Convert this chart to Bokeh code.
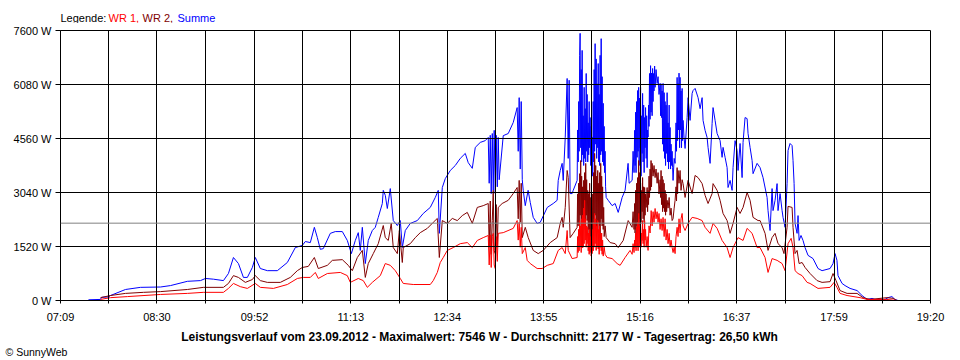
from bokeh.plotting import figure
from bokeh.layouts import column
from bokeh.models import Range1d, FixedTicker, Span, Label
from bokeh.embed import file_html
from bokeh.resources import INLINE

# ---------------- data (time in minutes since midnight, power in W) ----------------
X_TICK_LABELS = ["07:09", "08:30", "09:52", "11:13", "12:34", "13:55", "15:16", "16:37", "17:59", "19:20"]
Y_TICKS = [0, 1520, 3040, 4560, 6080, 7600]
DATE = "23.09.2012"
MAXIMUM = 7546
AVERAGE = 2177
YIELD_KWH = "26,50"

SUMME = [(452.5,20),(462.6,30),(463.5,90),(469.3,100),(471.0,140),(483.6,310),(496.2,370),(513.0,380),(521.4,420),(535.6,540),(546.6,560),(550.8,620),(557.5,600),(565.9,560),(570.1,760),(574.3,1210),(578.5,1040),(582.7,650),(586.0,650),(590.2,930),(592.7,1210),(596.9,900),(602.8,840),(611.2,840),(619.6,1070),(626.3,1490),(632.2,1550),(634.7,1660),(638.9,1630),(642.3,2060),(644.8,1770),(647.3,1440),(649.8,1460),(655.7,1890),(659.9,1940),(665.8,1940),(670.0,1690),(673.4,1320),(676.7,1690),(679.2,1910),(680.9,1410),(682.6,2060),(685.1,1040),(687.6,1690),(691.0,1970),(693.5,2060),(696.0,2340),(699.4,2730),(700.2,3100),(701.9,2960),(703.6,2590),(706.1,3150),(708.6,2250),(712.0,2110),(714.5,2250),(716.2,1490),(718.7,1970),(722.9,2170),(728.8,2250),(733.8,2450),(739.7,2620),(743.9,2900),(746.4,3100),(747.3,1890),(749.8,3180),(752.3,3430),(756.5,3660),(760.7,3800),(764.9,4000),(769.1,4140),(771.6,3880),(775.0,3720),(777.5,4310),(781.7,4450),(785.9,4500),(788.4,4590),(789.2,3300),(790.1,4650),(790.9,3010),(791.8,4700),(792.6,3100),(793.4,4790),(794.3,3010),(795.1,4650),(796.0,3200),(796.8,4590),(797.6,3400),(801.0,4640),(805.2,4700),(809.4,5010),(812.7,5430),(813.6,4200),(814.4,5710),(815.3,3700),(816.1,5600),(817.0,3400),(817.8,3100),(819.5,2670),(821.9,3100),(823.7,2760),(826.2,2340),(829.5,2170),(832.1,2200),(838.0,2620),(843.0,2730),(846.3,2820),(847.2,3380),(848.9,3660),(850.5,3860),(851.4,3380),(853.1,4590),(854.7,6250),(855.6,4000),(856.4,6200),(857.2,3010),(858.9,3010),(859.8,3100),
         (863.1,3380),(863.5,4800),(864.0,3900),(864.4,5600),(864.8,4200),(865.2,6900),(865.6,7520),(866.1,4300),(866.5,6500),(866.9,3900),(867.3,7040),(867.7,4100),(868.2,5200),(868.6,3800),(869.0,6000),(869.4,4000),(869.9,5400),(870.3,3900),(870.7,6390),(871.1,4200),(871.5,5800),(872.0,3900),(872.4,5000),(872.8,4100),(873.2,5600),(873.6,4300),(874.0,5150),(874.5,3800),(874.9,4900),(875.3,3700),(875.7,4600),(876.2,3500),(876.6,5600),(877.0,3900),(877.4,6500),(877.8,4200),(878.2,7230),(878.7,4400),(879.1,6800),(879.5,4000),(879.9,6100),(880.4,4300),(880.8,6670),(881.2,3900),(881.6,5800),(882.0,3800),(882.4,6900),(882.9,4100),(883.3,7370),(883.7,4200),(884.1,6300),(884.5,3900),(885.0,5550),(885.4,3800),(885.8,4900),(886.2,3600),(886.6,4200),(887.0,3200),(887.5,2900),
         (889.2,2820),(892.5,2670),(895.0,2730),(897.6,2480),(900.9,2900),(903.4,3100),(905.9,3860),(906.8,3300),
         (909.3,3380),(910.1,4200),(910.9,3600),(911.4,4790),(911.8,3800),(912.2,5300),(912.6,3600),(913.1,5600),(913.5,4030),(913.9,5910),(914.3,4200),(914.8,6000),(915.2,3800),(915.6,5700),(916.0,4300),(916.4,6000),(916.8,3500),(917.3,5200),(917.7,4140),(918.1,5830),(918.5,3900),(919.0,5500),(919.4,3600),(919.8,5150),(920.2,4300),(920.6,5430),(921.1,4000),(921.5,5200),(921.9,3740),(922.3,4800),(922.7,4600),(923.1,5500),(923.5,4900),(923.9,6390),(924.4,5100),(924.8,6610),(925.2,5300),(925.6,6400),(926.1,5200),(926.5,6530),(926.9,5600),(927.3,6390),(927.7,5900),(928.2,6600),(928.6,6000),(929.4,6500),(930.3,6110),(931.1,6300),(931.9,5800),(932.8,6110),(933.2,5200),(933.6,6100),(934.0,5150),(934.5,5900),(934.9,4400),(935.3,6110),(935.7,4200),(936.2,5850),(936.6,4000),(937.0,5600),(937.4,3800),(937.8,5500),(938.3,4140),(938.7,5850),(939.1,3900),(939.5,5000),(939.9,3700),(940.4,5500),(940.8,3900),(941.2,4870),(941.6,3700),(942.0,4400),(942.5,3800),(942.9,4200),(943.3,3740),(943.7,3380),(944.6,4000),(945.4,3860),(946.2,5000),(946.6,4200),(947.1,6280),(947.5,4500),(947.9,6110),(948.3,4800),(948.7,6400),(949.2,4300),(949.6,6280),(950.0,4800),(950.4,5900),(950.8,4300),(951.3,5970),(951.7,4500),(952.1,5070),(952.9,4600),(953.8,4280),
         (955.5,5150),(956.3,5710),(958.0,5070),(959.7,5830),(960.5,5910),(962.2,5970),(964.7,5710),(966.4,5400),(968.1,5710),(968.9,5070),(970.6,4790),(972.3,4590),(973.1,4310),(974.8,3860),(976.5,4980),(977.3,5430),(979.0,5070),(980.7,4700),(983.2,4500),(984.9,4030),(985.7,4310),(987.4,4030),(989.1,3740),(989.9,3180),(991.6,3380),(993.3,3100),(994.1,3740),(995.8,4500),(997.5,4220),(998.3,3660),(1000.0,4420),(1001.7,3460),(1002.5,4450),(1004.2,5150),(1005.9,5120),(1006.7,4700),(1008.4,4310),(1010.1,3940),(1010.9,3570),(1014.3,3860),(1016.8,3740),(1019.3,3460),(1022.7,2900),(1023.5,2530),(1025.2,1970),(1026.9,3150),(1027.7,2530),(1029.4,2820),(1031.1,3290),(1031.9,2530),(1033.6,3010),(1035.3,2530),(1036.1,2340),(1037.8,2060),(1039.5,3290),(1040.3,4220),(1042.0,4420),(1043.7,4360),(1044.5,3940),(1045.4,3290),(1046.2,2170),(1047.9,1890),(1048.7,2390),(1049.6,1690),(1051.2,1830),(1052.9,1690),(1054.6,1490),(1057.1,1270),(1061.3,1180),(1065.5,900),(1068.9,840),(1075.6,900),(1078.1,1040),(1079.8,1320),(1081.4,1130),(1082.3,700),(1085.7,480),(1088.2,420),(1092.4,340),(1098.3,280),(1102.5,140),(1106.7,30),(1110.9,60),(1113.4,30),(1121.8,30),(1124.3,80),(1127.6,110),(1130.1,30),(1132.7,0)]

WR2 = [(462.6,80),(471.0,140),(483.6,200),(498.7,230),(513.0,250),(535.6,310),(549.1,370),(565.9,370),(570.1,480),(574.3,700),(578.5,650),(584.3,510),(590.2,590),(592.7,700),(596.9,560),(602.8,510),(613.7,510),(622.1,650),(628.0,840),(632.2,930),(637.2,960),(642.3,1210),(645.6,900),(653.2,990),(657.4,1130),(665.8,1150),(670.8,990),(674.2,840),(678.4,1210),(682.6,1410),(685.1,650),(687.6,1040),(691.8,1320),(696.0,1600),(700.2,2110),(701.9,1770),(704.4,1690),(706.9,2170),(708.6,1490),(712.0,1320),(713.7,1970),(716.2,1070),(717.0,1490),(722.9,1600),(727.1,1770),(731.3,1910),(737.2,2030),(742.2,2200),(745.6,2310),(747.3,1210),(749.8,2250),(754.0,2170),(758.2,2310),(762.4,2250),(766.6,2390),(770.8,2480),(775.0,2170),(779.2,2620),(784.2,2670),(788.4,2730),(789.2,1500),(790.1,2800),(790.9,1300),(791.8,2250),(792.6,3100),(793.4,1400),(794.3,1320),(795.1,2700),(796.0,1500),(796.8,2620),(800.1,2730),(805.2,2820),(809.4,3010),(812.7,3180),(813.6,2300),(814.4,3380),(815.3,2200),(816.1,3300),(817.0,1770),(819.5,2060),(822.0,1770),(826.2,1410),(830.4,1320),(834.6,1410),(840.5,1630),(846.3,1770),(848.9,2170),(850.5,2340),(851.4,2060),(853.1,2620),(854.7,3660),(855.6,3460),(857.2,1770),(859.8,1890),
       (863.1,2060),(863.5,3000),(863.9,2100),(864.3,3300),(864.8,2200),(865.2,3570),(865.6,2400),(866.1,3940),(866.5,2000),(866.9,3500),(867.3,1490),(867.7,3200),(868.2,2100),(868.6,3380),(869.0,2300),(869.4,3600),(869.9,2000),(870.3,3860),(870.7,2400),(871.1,3400),(871.5,2250),(872.0,3100),(872.4,2000),(872.8,3010),(873.2,1800),(873.6,3300),(874.0,1700),(874.5,2900),(874.9,1500),(875.3,2600),(875.7,1410),(876.2,3000),(876.6,1900),(877.0,3600),(877.4,2300),(877.8,4140),(878.2,2400),(878.7,3800),(879.1,2100),(879.5,3500),(879.9,2060),(880.4,3660),(880.8,2200),(881.2,3300),(881.6,1900),(882.0,3600),(882.4,1770),(882.9,3860),(883.3,2300),(883.7,3500),(884.1,2100),(884.5,3200),(885.0,2000),(885.4,2620),(885.8,1800),(886.6,2100),(887.5,1770),
       (890.8,1630),(895.0,1600),(897.6,1490),(901.8,1690),(906.0,2250),
       (909.3,2060),(910.1,2500),(910.9,2000),(911.4,2730),(911.8,1900),(912.2,3100),(912.6,2000),(913.1,3300),(913.5,2100),(913.9,3460),(914.3,2200),(914.8,3940),(915.2,2100),(915.6,3600),(916.0,2300),(916.4,3300),(916.8,2200),(917.3,3100),(917.7,2500),(918.1,3460),(918.5,2300),(919.0,3200),(919.4,2200),(919.8,3180),(920.2,2400),(920.6,3000),(921.1,2620),(921.9,3180),(922.3,2500),(922.7,3100),(923.1,2700),(923.5,3500),(923.9,2900),(924.4,3700),(924.8,3100),(925.2,3940),(925.6,3200),(926.1,3860),(926.9,3500),(927.7,3800),(928.6,3460),(929.4,3700),(930.3,3300),(931.1,3600),(931.9,3000),(932.8,3400),(933.2,2900),(933.6,3660),(934.0,2700),(934.5,3500),(934.9,2500),(935.3,3400),(935.7,2600),(936.2,3300),(936.6,2500),(937.0,3100),(937.4,2400),(937.8,3000),(938.3,2500),(938.7,2820),(939.5,2600),(940.4,2900),(941.2,2400),(942.0,2600),(942.9,2250),(943.7,2300),(944.6,2600),(945.4,2820),(946.2,3200),(946.6,2800),(947.1,3740),(947.5,3000),(947.9,3660),(948.7,3300),(949.6,3660),(950.4,3100),(951.3,3400),(952.1,3290),(953.8,2900),
       (956.3,3380),(959.7,3010),(962.2,3520),(964.7,3460),(968.1,3290),(970.6,2960),(973.1,2730),(976.5,3010),(977.3,3290),(980.7,3100),(983.2,2820),(985.7,2450),(989.1,2250),(991.6,1890),(994.1,2170),(997.5,2620),(1000.0,2450),(1002.5,2620),(1005.9,3040),(1008.4,2820),(1010.9,2340),(1015.1,2250),(1016.8,2250),(1021.0,1890),(1023.5,1410),(1026.9,1770),(1029.4,1890),(1031.9,1600),(1035.3,1490),(1036.9,1320),(1039.5,2060),(1040.3,2650),(1043.7,2620),(1044.5,2060),(1046.2,1320),(1047.9,1410),(1049.6,1040),(1052.1,1070),(1054.6,930),(1058.8,760),(1064.7,560),(1068.9,510),(1075.6,530),(1078.1,760),(1080.6,560),(1084.0,280),(1089.9,200),(1098.3,200),(1103.3,80),(1109.2,30),(1123.4,80),(1128.5,60),(1131.8,0)]

WR1 = [(462.6,30),(471.0,80),(485.3,110),(513.0,170),(535.6,200),(549.1,230),(565.9,230),(570.1,340),(574.3,480),(580.1,390),(586.0,340),(592.7,480),(596.9,370),(607.9,340),(619.6,450),(628.0,620),(633.0,650),(638.9,650),(643.1,790),(645.6,620),(653.2,760),(664.1,790),(670.0,700),(672.5,510),(679.2,620),(683.4,560),(686.8,370),(691.0,510),(697.7,700),(701.9,1040),(706.1,990),(710.3,840),(714.5,620),(717.0,480),(725.4,450),(739.7,450),(742.2,560),(745.6,790),(748.1,1070),(750.6,1210),(754.0,1410),(759.0,1490),(764.9,1600),(770.8,1630),(775.0,1490),(779.2,1690),(784.2,1770),(788.4,1830),(789.2,1000),(790.1,1850),(790.9,930),(791.8,1800),(792.6,1890),(793.4,1000),(794.3,900),(795.1,1800),(796.0,1100),(796.8,1890),(801.0,1910),(809.4,2030),(812.7,2250),(813.6,1700),(814.4,2200),(815.3,1500),(816.1,2060),(817.0,1320),(819.5,1490),(821.1,1130),(823.7,1040),(829.5,900),(833.7,900),(838.0,990),(843.0,1040),(847.2,1410),(850.5,1490),(853.1,1320),(854.7,1970),(855.6,1410),(858.9,1180),
       (863.1,1210),(863.5,1800),(863.9,1350),(864.3,2000),(864.8,1400),(865.2,2250),(865.6,1500),(866.1,2100),(866.5,1350),(866.9,2300),(867.3,1490),(867.7,2400),(868.2,1500),(868.6,2600),(869.0,1600),(869.4,2820),(869.9,1700),(870.3,2300),(870.7,1500),(871.1,2100),(871.5,1600),(872.0,2060),(872.4,1400),(872.8,1900),(873.2,1300),(873.6,2000),(874.0,1350),(874.5,1800),(874.9,1250),(875.3,1700),(875.7,1320),(876.2,2000),(876.6,1400),(877.0,2200),(877.4,1500),(877.8,2450),(878.2,1600),(878.7,2300),(879.1,1410),(879.5,2100),(879.9,1500),(880.4,2250),(880.8,1450),(881.2,2000),(881.6,1300),(882.0,2100),(882.4,1490),(882.9,1890),(883.3,1400),(883.7,1900),(884.1,1300),(884.5,1700),(885.0,1250),(885.8,1500),(886.6,1300),(888.3,1210),
       (892.5,1180),(896.7,1040),(899.2,990),(903.4,1210),(907.6,1410),
       (909.3,1300),(910.1,1600),(910.9,1350),(911.4,1700),(911.8,1490),(912.2,1900),(912.6,1400),(913.1,2060),(913.5,1500),(913.9,2200),(914.3,1400),(914.8,2450),(915.2,1500),(915.6,2100),(916.0,1600),(916.4,2200),(916.8,1500),(917.3,1900),(917.7,1690),(918.1,2250),(918.5,1600),(919.0,2000),(919.4,1500),(919.8,2250),(920.2,1700),(920.6,2000),(921.1,1500),(921.9,1800),(922.7,1410),(923.5,2100),(924.4,1900),(925.3,2530),(926.1,2100),(926.9,2500),(927.7,2200),(928.6,2590),(929.4,2300),(930.3,2500),(931.1,2200),(931.9,2450),(932.8,2000),(933.6,2300),(934.5,1970),(935.3,2340),(936.2,1800),(937.0,2300),(937.8,1700),(938.7,2000),(939.5,1600),(940.4,1890),(941.2,1500),(942.0,1700),(942.9,1490),(943.7,1350),(944.6,1500),(945.4,1320),(946.2,1800),(947.1,2060),(947.9,1800),(948.7,2300),(949.6,1900),(950.4,2300),(951.3,2450),(952.1,2100),(953.8,1970),
       (956.3,2170),(959.7,2340),(963.9,2310),(968.1,2250),(970.6,2060),(974.8,1890),(977.3,2170),(980.7,2030),(984.9,1690),(989.1,1490),(991.6,1210),(994.1,1490),(998.3,1770),(1002.5,1690),(1005.9,2030),(1010.1,1890),(1014.3,1490),(1016.8,1490),(1021.0,1210),(1023.5,790),(1026.9,1180),(1031.1,1130),(1035.3,1040),(1037.8,840),(1040.3,1600),(1042.9,1750),(1044.5,1490),(1046.2,840),(1048.7,760),(1052.1,700),(1056.3,510),(1058.8,480),(1065.5,340),(1075.6,370),(1079.0,510),(1081.4,370),(1084.0,200),(1089.9,140),(1100.8,80),(1106.7,30),(1123.4,30),(1131.8,0)]

COLOR_WR1 = "#FF0000"
COLOR_WR2 = "#800000"
COLOR_SUM = "#0000FF"
FONT = "Liberation Sans"


def text_strip(height):
    f = figure(width=960, height=height, output_backend="svg", toolbar_location=None,
               x_range=Range1d(0, 1), y_range=Range1d(0, 1), x_axis_type=None, y_axis_type=None,
               min_border=0, outline_line_color=None, background_fill_color="white",
               border_fill_color="white", frame_align=False)
    f.title.visible = False
    return f


# ---------------- legend strip (top) ----------------
top = text_strip(23)
legend_parts = [("Legende:", "black", 60), ("WR 1,", COLOR_WR1, 108), ("WR 2,", COLOR_WR2, 142), ("Summe", COLOR_SUM, 177)]
for txt, col, xo in legend_parts:
    top.add_layout(Label(x=xo, y=6, x_units="screen", y_units="screen", text=txt, text_color=col,
                         text_font=FONT, text_font_size="11px", text_baseline="middle"))

# ---------------- main chart ----------------
x_major = [int(s[:2]) * 60 + int(s[3:]) for s in X_TICK_LABELS]
x_minor = [(a + b) / 2 for a, b in zip(x_major[:-1], x_major[1:])]

p = figure(width=960, height=303, output_backend="svg", toolbar_location=None,
           x_range=Range1d(x_major[0], x_major[-1]), y_range=Range1d(Y_TICKS[0], Y_TICKS[-1]),
           min_border_left=60, min_border_right=30, min_border_top=7, min_border_bottom=26,
           background_fill_color="white", border_fill_color="white",
           outline_line_color="black", outline_line_width=1, frame_align=False)
p.title.visible = False

p.xaxis.ticker = FixedTicker(ticks=x_major, minor_ticks=x_minor)
p.xaxis.major_label_overrides = {t: lab for t, lab in zip(x_major, X_TICK_LABELS)}
p.yaxis.ticker = FixedTicker(ticks=Y_TICKS, minor_ticks=[])
p.yaxis.major_label_overrides = {v: f"{v} W" for v in Y_TICKS}
for ax in (p.xaxis, p.yaxis):
    ax.axis_line_color = "black"
    ax.major_tick_line_color = "black"
    ax.minor_tick_line_color = "black"
    ax.major_tick_in = 0
    ax.minor_tick_in = 0
    ax.major_label_text_font = FONT
    ax.major_label_text_font_size = "11px"
    ax.major_label_text_color = "black"
p.xaxis.major_tick_out = 3
p.xaxis.minor_tick_out = 3
p.xaxis.major_label_standoff = 7
p.yaxis.major_tick_out = 5
p.yaxis.minor_tick_out = 0
p.yaxis.major_label_standoff = 4

p.xgrid.grid_line_color = "black"
p.xgrid.minor_grid_line_color = "black"
p.ygrid.grid_line_color = "black"
p.xgrid.level = "guide"
p.ygrid.level = "guide"

for data, color in ((SUMME, COLOR_SUM), (WR2, COLOR_WR2), (WR1, COLOR_WR1)):
    t = [d[0] for d in data]
    w = [d[1] for d in data]
    p.line(t, w, line_color=color, line_width=1)

p.add_layout(Span(location=AVERAGE, dimension="width", line_color="#808080", line_width=1))

# ---------------- caption strip (bottom) ----------------
bottom = text_strip(34)
title = (f"Leistungsverlauf vom {DATE} - Maximalwert: {MAXIMUM} W - "
         f"Durchschnitt: {AVERAGE} W - Tagesertrag: {YIELD_KWH} kWh")
bottom.add_layout(Label(x=479, y=24, x_units="screen", y_units="screen", text=title, text_color="black",
                        text_font=FONT, text_font_size="12px", text_font_style="bold",
                        text_align="center", text_baseline="middle"))
bottom.add_layout(Label(x=5, y=9, x_units="screen", y_units="screen", text="\u00a9 SunnyWeb",
                        text_color="black", text_font=FONT, text_font_size="10.5px",
                        text_baseline="alphabetic"))

layout = column(top, p, bottom, spacing=0)
open("out.html", "w").write(file_html(layout, INLINE))
